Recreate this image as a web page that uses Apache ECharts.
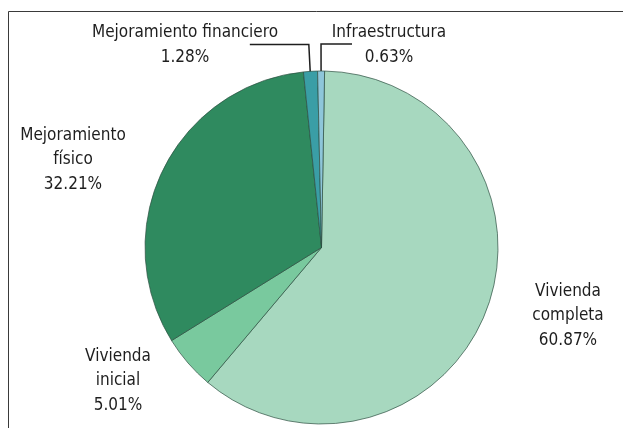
<!DOCTYPE html>
<html>
<head>
<meta charset="utf-8">
<script src="https://cdn.jsdelivr.net/npm/echarts@6/dist/echarts.min.js"></script>
<style>
  html, body { margin: 0; padding: 0; background: #fff; }
  #chart { width: 623px; height: 428px; }
</style>
</head>
<body>
<div id="chart"></div>
<script>
// Data
const categories = ['Vivienda completa', 'Vivienda inicial', 'Mejoramiento físico', 'Mejoramiento financiero', 'Infraestructura'];
const labelTexts = ['Vivienda\ncompleta', 'Vivienda\ninicial', 'Mejoramiento\nfísico', 'Mejoramiento financiero', 'Infraestructura'];
const values = [60.87, 5.01, 32.21, 1.28, 0.63];

// Styles
const colors = ['#a7d8bf', '#79c99e', '#2f8a5f', '#3a9ea6', '#8ec6da'];
const labelPos = [
  { x: 568, y: 316 },
  { x: 118, y: 381 },
  { x: 73, y: 160 },
  { x: 185, y: 45 },
  { x: 389, y: 45 }
];
const hasLine = [false, false, false, true, true];
const lineTail = [0, 0, 0, -59, 31];
const FONT = '"DejaVu Sans Condensed", "DejaVu Sans", sans-serif';

const chart = echarts.init(document.getElementById('chart'), null, { renderer: 'canvas' });

const data = categories.map((c, i) => ({
  name: c,
  value: values[i],
  itemStyle: { color: colors[i] },
  labelLine: { show: hasLine[i], length: 27, length2: 10 }
}));

chart.setOption({
  animation: false,
  graphic: [{
    type: 'rect',
    shape: { x: 8.5, y: 11.5, width: 800, height: 600 },
    style: { fill: 'none', stroke: '#3a3a3a', lineWidth: 1 },
    silent: true,
    z: -1
  }],
  series: [{
    type: 'pie',
    center: [321.5, 247.5],
    radius: 176.5,
    startAngle: 89,
    clockwise: true,
    avoidLabelOverlap: false,
    data: data,
    itemStyle: { borderColor: '#2d4f40', borderWidth: 0.7 },
    label: {
      show: true,
      position: 'outside',
      formatter: (p) => labelTexts[p.dataIndex] + '\n' + values[p.dataIndex].toFixed(2) + '%',
      fontFamily: FONT,
      fontSize: 17,
      lineHeight: 24.5,
      color: '#1e1e1e',
      align: 'center'
    },
    labelLine: {
      lineStyle: { color: '#1e1e1e', width: 1.5 },
      smooth: false
    },
    labelLayout: function (params) {
      const i = params.dataIndex;
      const out = { x: labelPos[i].x, y: labelPos[i].y, align: 'center', verticalAlign: 'middle' };
      if (hasLine[i] && params.labelLinePoints) {
        const p0 = params.labelLinePoints[0];
        const p1 = params.labelLinePoints[1];
        out.labelLinePoints = [
          [p0[0], p0[1] + 6],
          [p1[0], p1[1]],
          [p1[0] + lineTail[i], p1[1]]
        ];
      }
      return out;
    }
  }]
});
</script>
</body>
</html>
